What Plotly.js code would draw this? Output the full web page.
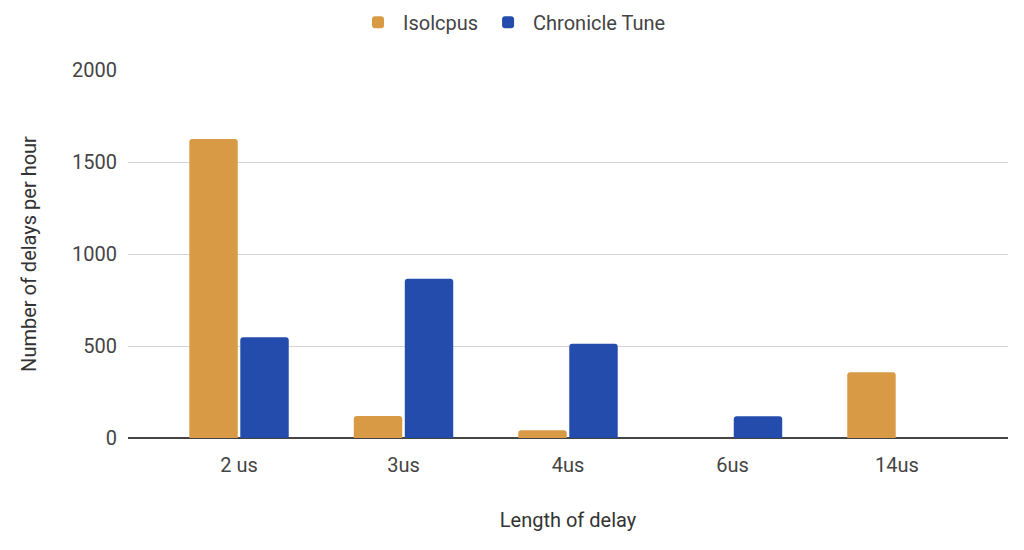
<!DOCTYPE html>
<html>
<head>
<meta charset="utf-8">
<script src="https://cdn.plot.ly/plotly-3.0.1.min.js"></script>
<style>
  html, body { margin: 0; padding: 0; background: #fff; }
  #chart { width: 1024px; height: 550px; }
</style>
</head>
<body>
<div id="chart"></div>
<script>
// delay lengths on the x axis
const delays = ['2 us', '3us', '4us', '6us', '14us'];

// delays per hour
const isolcpus = [1625, 119, 42, 0, 358];
const chronicleTune = [548, 865, 512, 118, 0];

const yTicks = [0, 500, 1000, 1500, 2000];

const traces = [
    {
        x: delays,
        y: isolcpus,
        name: 'Isolcpus',
        type: 'bar',
        marker: { color: '#d99a46', cornerradius: 3 },
        hoverinfo: 'x+y'
    },
    {
        x: delays,
        y: chronicleTune,
        name: 'Chronicle Tune',
        type: 'bar',
        marker: { color: '#234cac', cornerradius: 3 },
        hoverinfo: 'x+y'
    }
];

const layout = {
    width: 1024,
    height: 550,
    margin: { l: 128, r: 16, t: 70, b: 112 },
    paper_bgcolor: '#fff',
    plot_bgcolor: '#fff',
    font: { family: 'Roboto, sans-serif', size: 20, color: '#444' },
    barmode: 'group',
    bargap: 0.38,
    bargroupgap: 0.05,
    showlegend: true,
    legend: {
        orientation: 'h',
        x: 0.5,
        xref: 'container',
        xanchor: 'center',
        y: 0.995,
        yref: 'container',
        yanchor: 'top',
        font: { size: 20, color: '#444' },
        itemwidth: 40
    },
    xaxis: {
        type: 'category',
        range: [-0.675, 4.675],
        showgrid: false,
        ticks: '',
        showline: false,
        zeroline: false,
        ticklabelstandoff: 13,
        tickfont: { size: 20, color: '#444' },
        title: { text: 'Length of delay', font: { size: 20, color: '#333' }, standoff: 36 }
    },
    yaxis: {
        range: [0, 2000],
        tickvals: yTicks,
        ticktext: yTicks.map(String),
        showgrid: true,
        gridcolor: '#d4d4d4',
        gridwidth: 1,
        zeroline: true,
        zerolinecolor: '#444',
        zerolinewidth: 2,
        ticks: '',
        ticklabelstandoff: 10,
        tickfont: { size: 20, color: '#444' },
        title: { text: 'Number of delays per hour', font: { size: 20, color: '#333' }, standoff: 30 }
    }
};

Plotly.newPlot('chart', traces, layout, { displayModeBar: false, staticPlot: true });
</script>
</body>
</html>
